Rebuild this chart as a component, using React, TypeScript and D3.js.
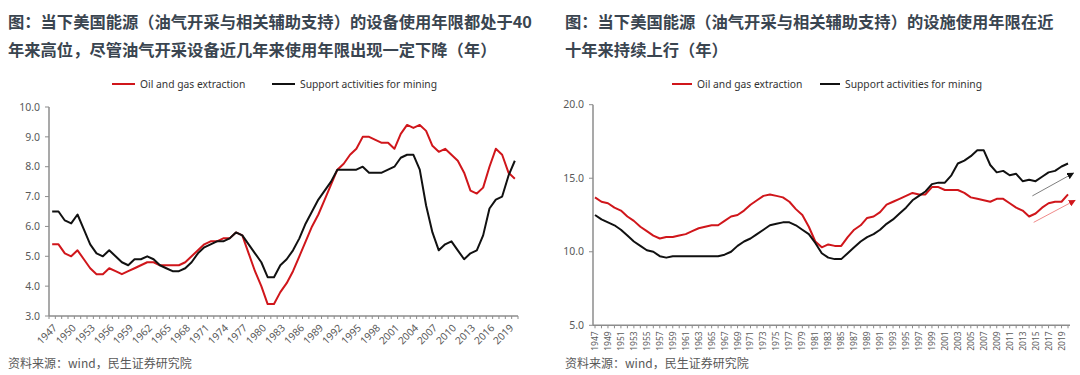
import React from "react";
import * as d3 from "d3";

const years: number[] = d3.range(1947, 2021);

// Left chart: equipment service life (years)
const leftOil: number[] = [
  5.4, 5.4, 5.1, 5.0, 5.2, 4.9, 4.6, 4.4, 4.4, 4.6,
  4.5, 4.4, 4.5, 4.6, 4.7, 4.8, 4.8, 4.7, 4.7, 4.7,
  4.7, 4.8, 5.0, 5.2, 5.4, 5.5, 5.5, 5.6, 5.6, 5.8,
  5.7, 5.1, 4.5, 4.0, 3.4, 3.4, 3.8, 4.1, 4.5, 5.0,
  5.5, 6.0, 6.4, 6.9, 7.4, 7.9, 8.1, 8.4, 8.6, 9.0,
  9.0, 8.9, 8.8, 8.8, 8.6, 9.1, 9.4, 9.3, 9.4, 9.2,
  8.7, 8.5, 8.6, 8.4, 8.2, 7.8, 7.2, 7.1, 7.3, 8.0,
  8.6, 8.4, 7.8, 7.6,
];
const leftSupport: number[] = [
  6.5, 6.5, 6.2, 6.1, 6.4, 5.9, 5.4, 5.1, 5.0, 5.2,
  5.0, 4.8, 4.7, 4.9, 4.9, 5.0, 4.9, 4.7, 4.6, 4.5,
  4.5, 4.6, 4.8, 5.1, 5.3, 5.4, 5.5, 5.5, 5.6, 5.8,
  5.7, 5.4, 5.1, 4.8, 4.3, 4.3, 4.7, 4.9, 5.2, 5.6,
  6.1, 6.5, 6.9, 7.2, 7.5, 7.9, 7.9, 7.9, 7.9, 8.0,
  7.8, 7.8, 7.8, 7.9, 8.0, 8.3, 8.4, 8.4, 7.9, 6.7,
  5.8, 5.2, 5.4, 5.5, 5.2, 4.9, 5.1, 5.2, 5.7, 6.6,
  6.9, 7.0, 7.7, 8.2,
];

// Right chart: structures service life (years)
const rightOil: number[] = [
  13.7, 13.4, 13.3, 13.0, 12.8, 12.4, 12.1, 11.7, 11.4, 11.1,
  10.9, 11.0, 11.0, 11.1, 11.2, 11.4, 11.6, 11.7, 11.8, 11.8,
  12.1, 12.4, 12.5, 12.8, 13.2, 13.5, 13.8, 13.9, 13.8, 13.7,
  13.4, 12.9, 12.5, 11.7, 10.7, 10.3, 10.5, 10.4, 10.4, 11.0,
  11.5, 11.8, 12.3, 12.4, 12.7, 13.2, 13.4, 13.6, 13.8, 14.0,
  13.9, 13.9, 14.4, 14.4, 14.2, 14.2, 14.2, 14.0, 13.7, 13.6,
  13.5, 13.4, 13.6, 13.6, 13.3, 13.0, 12.8, 12.4, 12.6, 13.0,
  13.3, 13.4, 13.4, 13.9,
];
const rightSupport: number[] = [
  12.5, 12.2, 12.0, 11.8, 11.5, 11.1, 10.7, 10.4, 10.1, 10.0,
  9.7, 9.6, 9.7, 9.7, 9.7, 9.7, 9.7, 9.7, 9.7, 9.7,
  9.8, 10.0, 10.4, 10.7, 10.9, 11.2, 11.5, 11.8, 11.9, 12.0,
  12.0, 11.8, 11.5, 11.2, 10.6, 9.9, 9.6, 9.5, 9.5, 9.9,
  10.3, 10.7, 11.0, 11.2, 11.5, 11.9, 12.2, 12.6, 13.0, 13.5,
  13.8, 14.1, 14.6, 14.7, 14.7, 15.2, 16.0, 16.2, 16.5, 16.9,
  16.9, 15.9, 15.4, 15.5, 15.2, 15.3, 14.8, 14.9, 14.8, 15.1,
  15.4, 15.5, 15.8, 16.0,
];

const leftTicksY: number[] = [3, 4, 5, 6, 7, 8, 9, 10];
const rightTicksY: number[] = [5, 10, 15, 20];
const leftLabelYears: number[] = d3.range(1947, 2020, 3);
const rightLabelYears: number[] = d3.range(1947, 2020, 2);

// trend arrows in the right chart: [x0 year, y0, x1 year, y1]
const blackArrow: number[] = [2014.5, 13.8, 2020.85, 15.35];
const redArrow: number[] = [2014.7, 12.0, 2021.1, 13.5];

const seriesNames: string[] = ["Oil and gas extraction", "Support activities for mining"];
const titleLeft: string[] = [
  "图：当下美国能源（油气开采与相关辅助支持）的设备使用年限都处于40",
  "年来高位，尽管油气开采设备近几年来使用年限出现一定下降（年）",
];
const titleRight: string[] = [
  "图：当下美国能源（油气开采与相关辅助支持）的设施使用年限在近",
  "十年来持续上行（年）",
];
const source = "资料来源：wind，民生证券研究院";

const RED = "#d0161b";
const BLACK = "#111111";
const AXIS = "#8c8c8c";
const TXT = "#595959";
const TITLE = "#3a4550";
const CJK = "'Noto Sans CJK SC', 'Noto Sans', sans-serif";
const LAT = "'Noto Sans', 'Open Sans', sans-serif";

function LeftChart() {
  const x0 = 49, x1 = 518, yTop = 107, yBot = 316;
  const xb = d3.scaleBand<number>().domain(years).range([x0, x1]);
  const xc = (yr: number) => (xb(yr) as number) + xb.bandwidth() / 2;
  const y = d3.scaleLinear().domain([3, 10]).range([yBot, yTop]);
  const line = (vals: number[]) =>
    d3.line<number>().x((_, i) => xc(years[i])).y((v) => y(v))(vals) as string;
  const bounds = d3.range(0, years.length + 1).map((i) => x0 + i * xb.bandwidth());
  return (
    <g>
      {titleLeft.map((t, i) => (
        <text key={i} x={8} y={28 + i * 28} fontFamily={CJK} fontWeight={700} fontSize={16.3} fill={TITLE}>{t}</text>
      ))}
      {/* legend */}
      <line x1={112} x2={135} y1={84} y2={84} stroke={RED} strokeWidth={2} />
      <text x={140} y={87.5} fontFamily={LAT} fontSize={10.3} fill="#333">{seriesNames[0]}</text>
      <line x1={272} x2={295} y1={84} y2={84} stroke={BLACK} strokeWidth={2} />
      <text x={300} y={87.5} fontFamily={LAT} fontSize={10.3} fill="#333">{seriesNames[1]}</text>
      {/* axes */}
      <line x1={x0} x2={x0} y1={yTop} y2={yBot} stroke={AXIS} strokeWidth={1.5} />
      <line x1={x0} x2={x1} y1={yBot} y2={yBot} stroke={AXIS} strokeWidth={1.5} />
      {leftTicksY.map((t) => (
        <g key={t}>
          <line x1={x0 - 4} x2={x0} y1={y(t)} y2={y(t)} stroke={AXIS} />
          <text x={40} y={y(t)} dy="0.35em" textAnchor="end" fontFamily={LAT} fontSize={10.5} fill={TXT}>{t.toFixed(1)}</text>
        </g>
      ))}
      {bounds.map((b, i) => (
        <line key={i} x1={b} x2={b} y1={yBot} y2={yBot + 3} stroke={AXIS} />
      ))}
      {leftLabelYears.map((yr) => (
        <text key={yr} transform={`translate(${xc(yr) + 3},${yBot + 10}) rotate(-45)`} textAnchor="end" dy="0.35em"
          fontFamily={LAT} fontSize={10.2} fill={TXT}>{yr}</text>
      ))}
      <path d={line(leftOil)} fill="none" stroke={RED} strokeWidth={2} strokeLinejoin="round" />
      <path d={line(leftSupport)} fill="none" stroke={BLACK} strokeWidth={2} strokeLinejoin="round" />
      <text x={8} y={368} fontFamily={CJK} fontSize={12} fill={TXT}>{source}</text>
    </g>
  );
}

function RightChart() {
  const ax = 593, x0 = 595, x1 = 1068, yTop = 104.7, yBot = 325.3;
  const xl = d3.scaleLinear().domain([1947, 2020]).range([x0, x1]);
  const y = d3.scaleLinear().domain([5, 20]).range([yBot, yTop]);
  const line = (vals: number[]) =>
    d3.line<number>().x((_, i) => xl(years[i])).y((v) => y(v))(vals) as string;
  return (
    <g>
      <defs>
        <marker id="headBlack" viewBox="0 0 10 10" refX="9" refY="5" markerWidth="7" markerHeight="7" orient="auto" markerUnits="userSpaceOnUse">
          <path d="M0,0 L10,5 L0,10 z" fill="#111" />
        </marker>
        <marker id="headRed" viewBox="0 0 10 10" refX="9" refY="5" markerWidth="7" markerHeight="7" orient="auto" markerUnits="userSpaceOnUse">
          <path d="M0,0 L10,5 L0,10 z" fill={RED} />
        </marker>
      </defs>
      {titleRight.map((t, i) => (
        <text key={i} x={565} y={28 + i * 28} fontFamily={CJK} fontWeight={700} fontSize={16.3} fill={TITLE}>{t}</text>
      ))}
      <line x1={672} x2={692} y1={84} y2={84} stroke={RED} strokeWidth={2} />
      <text x={697} y={87.5} fontFamily={LAT} fontSize={10.3} fill="#333">{seriesNames[0]}</text>
      <line x1={820} x2={840} y1={84} y2={84} stroke={BLACK} strokeWidth={2} />
      <text x={845} y={87.5} fontFamily={LAT} fontSize={10.3} fill="#333">{seriesNames[1]}</text>
      <line x1={ax} x2={ax} y1={yTop} y2={yBot} stroke={AXIS} strokeWidth={1.5} />
      <line x1={ax} x2={x1 + 2} y1={yBot} y2={yBot} stroke={AXIS} strokeWidth={1.5} />
      {rightTicksY.map((t) => (
        <g key={t}>
          <line x1={ax - 4} x2={ax} y1={y(t)} y2={y(t)} stroke={AXIS} />
          <text x={584} y={y(t)} dy="0.35em" textAnchor="end" fontFamily={LAT} fontSize={10.5} fill={TXT}>{t.toFixed(1)}</text>
        </g>
      ))}
      {years.map((yr) => (
        <line key={yr} x1={xl(yr)} x2={xl(yr)} y1={yBot} y2={yBot + 3} stroke={AXIS} />
      ))}
      {rightLabelYears.map((yr) => (
        <text key={yr} transform={`translate(${xl(yr)},${yBot + 6}) rotate(-90)`} textAnchor="end" dy="0.35em"
          fontFamily={LAT} fontSize={8.5} fill={TXT}>{yr}</text>
      ))}
      <path d={line(rightOil)} fill="none" stroke={RED} strokeWidth={2} strokeLinejoin="round" />
      <path d={line(rightSupport)} fill="none" stroke={BLACK} strokeWidth={2} strokeLinejoin="round" />
      <line x1={xl(blackArrow[0])} y1={y(blackArrow[1])} x2={xl(blackArrow[2])} y2={y(blackArrow[3])}
        stroke="#7f7f7f" strokeWidth={1} markerEnd="url(#headBlack)" />
      <line x1={xl(redArrow[0])} y1={y(redArrow[1])} x2={xl(redArrow[2])} y2={y(redArrow[3])}
        stroke="#f08a8a" strokeWidth={1} markerEnd="url(#headRed)" />
      <text x={565} y={368} fontFamily={CJK} fontSize={12} fill={TXT}>{source}</text>
    </g>
  );
}

export default function App() {
  return (
    <svg width={1080} height={375} style={{ position: "absolute", left: 0, top: 0, background: "#fff" }}>
      <rect width={1080} height={375} fill="#fff" />
      <LeftChart />
      <RightChart />
    </svg>
  );
}
